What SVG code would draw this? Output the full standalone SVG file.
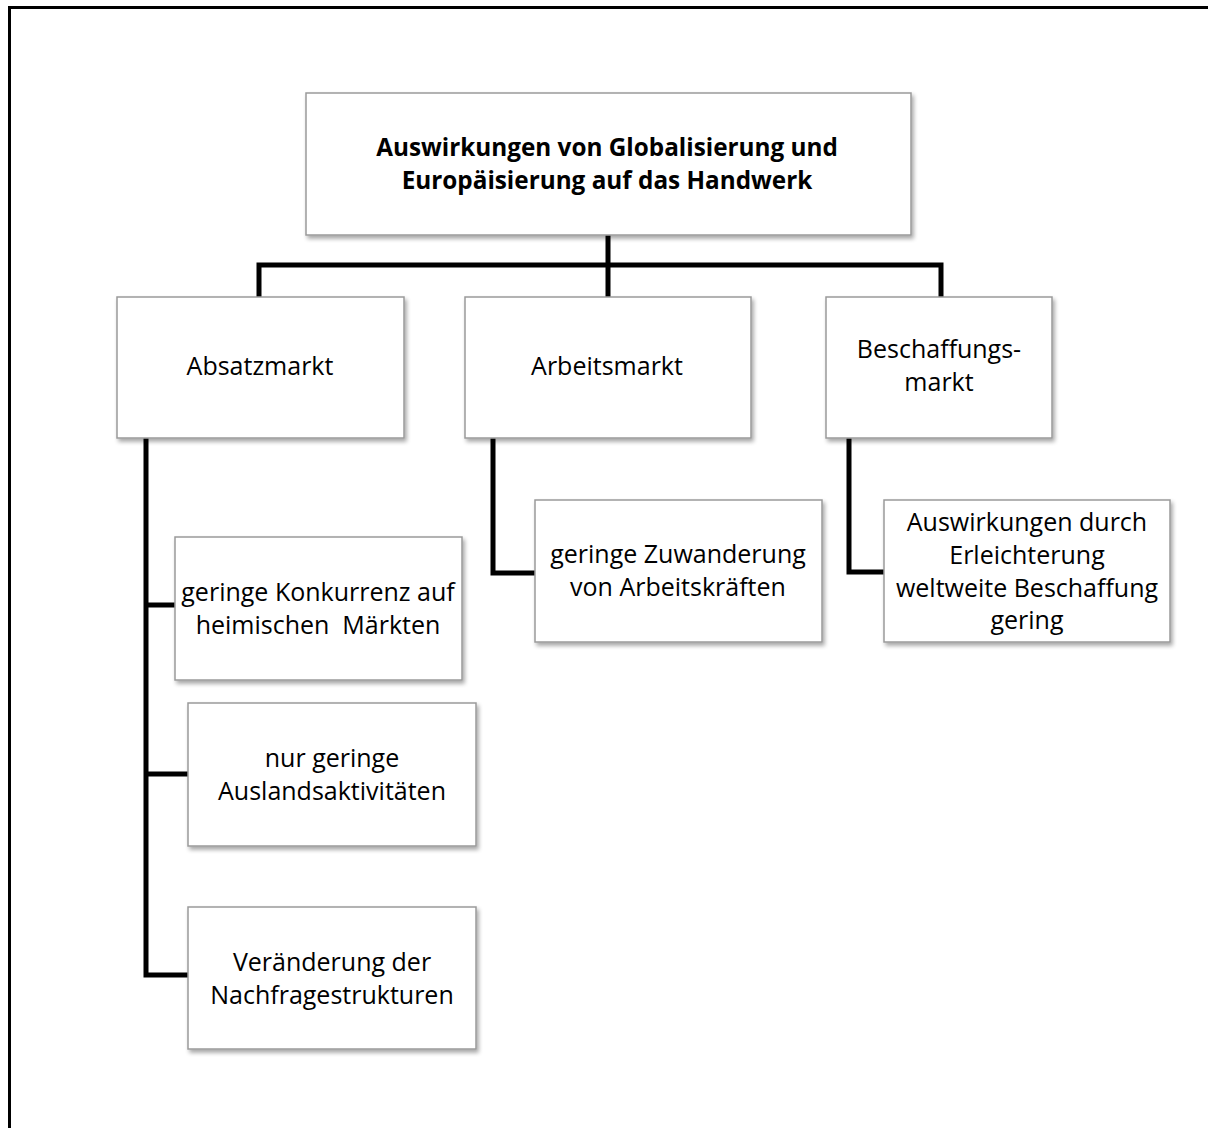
<svg xmlns="http://www.w3.org/2000/svg" width="1208" height="1128" viewBox="0 0 1208 1128">
<defs>
<filter id="sh" x="-10%" y="-10%" width="125%" height="130%">
<feGaussianBlur in="SourceAlpha" stdDeviation="2"/>
<feOffset dx="2" dy="3" result="b"/>
<feComponentTransfer><feFuncA type="linear" slope="0.35"/></feComponentTransfer>
<feMerge><feMergeNode/><feMergeNode in="SourceGraphic"/></feMerge>
</filter>
</defs>
<style>
.box{fill:#fff;stroke:#9a9a9a;stroke-width:1.5;filter:url(#sh)}
.t{font-family:"Open Sans","Liberation Sans",sans-serif;font-size:25px;fill:#000;text-anchor:middle}
.b{font-weight:bold;font-size:24.3px}
.c{fill:none;stroke:#000;stroke-width:5}
</style>
<rect width="1208" height="1128" fill="#fff"/>
<path d="M9.5 1128 V7.5 H1208" fill="none" stroke="#000" stroke-width="3"/>
<g id="connectors">
<path class="c" d="M608 235 V297 M259 297 V265 H941 V297"/>
<path class="c" d="M146 438 V975 H188 M146 605 H175 M146 774 H188"/>
<path class="c" d="M493 438 V573 H535"/>
<path class="c" d="M849 438 V572 H884"/>
</g>
<g id="root">
<rect class="box" x="306" y="93" width="605" height="142"/>
<text class="t b" x="607" y="156">Auswirkungen von Globalisierung und</text>
<text class="t b" x="607" y="189">Europäisierung auf das Handwerk</text>
</g>
<g id="absatzmarkt">
<rect class="box" x="117" y="297" width="287" height="141"/>
<text class="t" x="260" y="375">Absatzmarkt</text>
</g>
<g id="arbeitsmarkt">
<rect class="box" x="465" y="297" width="286" height="141"/>
<text class="t" x="607" y="375">Arbeitsmarkt</text>
</g>
<g id="beschaffungsmarkt">
<rect class="box" x="826" y="297" width="226" height="141"/>
<text class="t" x="939" y="358">Beschaffungs-</text>
<text class="t" x="939" y="391">markt</text>
</g>
<g id="konkurrenz">
<rect class="box" x="175" y="537" width="287" height="143"/>
<text class="t" x="318" y="601">geringe Konkurrenz auf</text>
<text class="t" x="318" y="634" xml:space="preserve">heimischen  Märkten</text>
</g>
<g id="ausland">
<rect class="box" x="188" y="703" width="288" height="143"/>
<text class="t" x="332" y="767">nur geringe</text>
<text class="t" x="332" y="800">Auslandsaktivitäten</text>
</g>
<g id="nachfrage">
<rect class="box" x="188" y="907" width="288" height="142"/>
<text class="t" x="332" y="971">Veränderung der</text>
<text class="t" x="332" y="1004">Nachfragestrukturen</text>
</g>
<g id="zuwanderung">
<rect class="box" x="535" y="500" width="287" height="142"/>
<text class="t" x="678" y="563">geringe Zuwanderung</text>
<text class="t" x="678" y="596">von Arbeitskräften</text>
</g>
<g id="beschaffung">
<rect class="box" x="884" y="500" width="286" height="142"/>
<text class="t" x="1027" y="531">Auswirkungen durch</text>
<text class="t" x="1027" y="564">Erleichterung</text>
<text class="t" x="1027" y="597">weltweite Beschaffung</text>
<text class="t" x="1027" y="629">gering</text>
</g>
</svg>
